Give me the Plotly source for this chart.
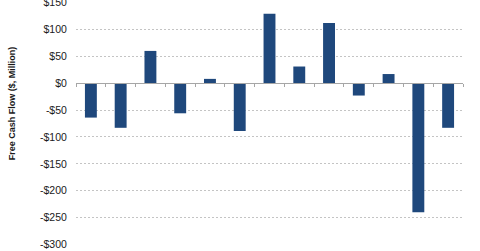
import plotly.graph_objects as go

categories = ["1Q15", "2Q15", "3Q15", "4Q15", "1Q16", "2Q16", "3Q16",
              "4Q16", "1Q17", "2Q17", "3Q17", "4Q17", "1Q18"]
free_cash_flow = [-64, -83, 60, -56, 8, -89, 129, 31, 112, -23, 17, -240, -83]
y_tick_vals = [150, 100, 50, 0, -50, -100, -150, -200, -250, -300]
y_tick_text = ["$150", "$100", "$50", "$0", "-$50", "-$100", "-$150",
               "-$200", "-$250", "-$300"]

y_range = [-301, 151]

fig = go.Figure()
fig.add_trace(go.Bar(
    x=categories, y=free_cash_flow,
    marker=dict(color="#1f487c", line=dict(width=0)),
    width=0.4,
))

fig.update_layout(
    width=480, height=251,
    margin=dict(l=76, r=17, t=2, b=5.5, autoexpand=False),
    paper_bgcolor="white", plot_bgcolor="white",
    showlegend=False,
    font=dict(family="Liberation Sans, Arial, sans-serif", color="#000000"),
    xaxis=dict(
        type="category", automargin=False,
        anchor="free", position=(0 - y_range[0]) / (y_range[1] - y_range[0]),
        showline=True, linecolor="#a6a6a6", linewidth=1,
        ticks="outside", tickson="boundaries", ticklen=3, tickcolor="#a6a6a6",
        showticklabels=False, showgrid=False, zeroline=False,
    ),
    yaxis=dict(
        range=y_range, automargin=False,
        tickmode="array", tickvals=y_tick_vals, ticktext=y_tick_text,
        tickfont=dict(size=10.5, color="#1a1a1a"),
        ticks="outside", ticklen=6, tickcolor="rgba(0,0,0,0)",
        ticklabeloverflow="allow",
        showgrid=True, gridcolor="#c4c4c4", gridwidth=1, griddash="2px,2px",
        zeroline=False, showline=False,
    ),
    annotations=[dict(
        text="<b>Free Cash Flow ($, Million)</b>",
        xref="paper", yref="paper",
        x=(12 - 76) / 387, y=(245.5 - 103.5) / 243.5,
        xanchor="center", yanchor="middle",
        textangle=-90, showarrow=False,
        font=dict(size=9, color="#1a1a1a"),
    )],
)

fig.write_html("out.html")
